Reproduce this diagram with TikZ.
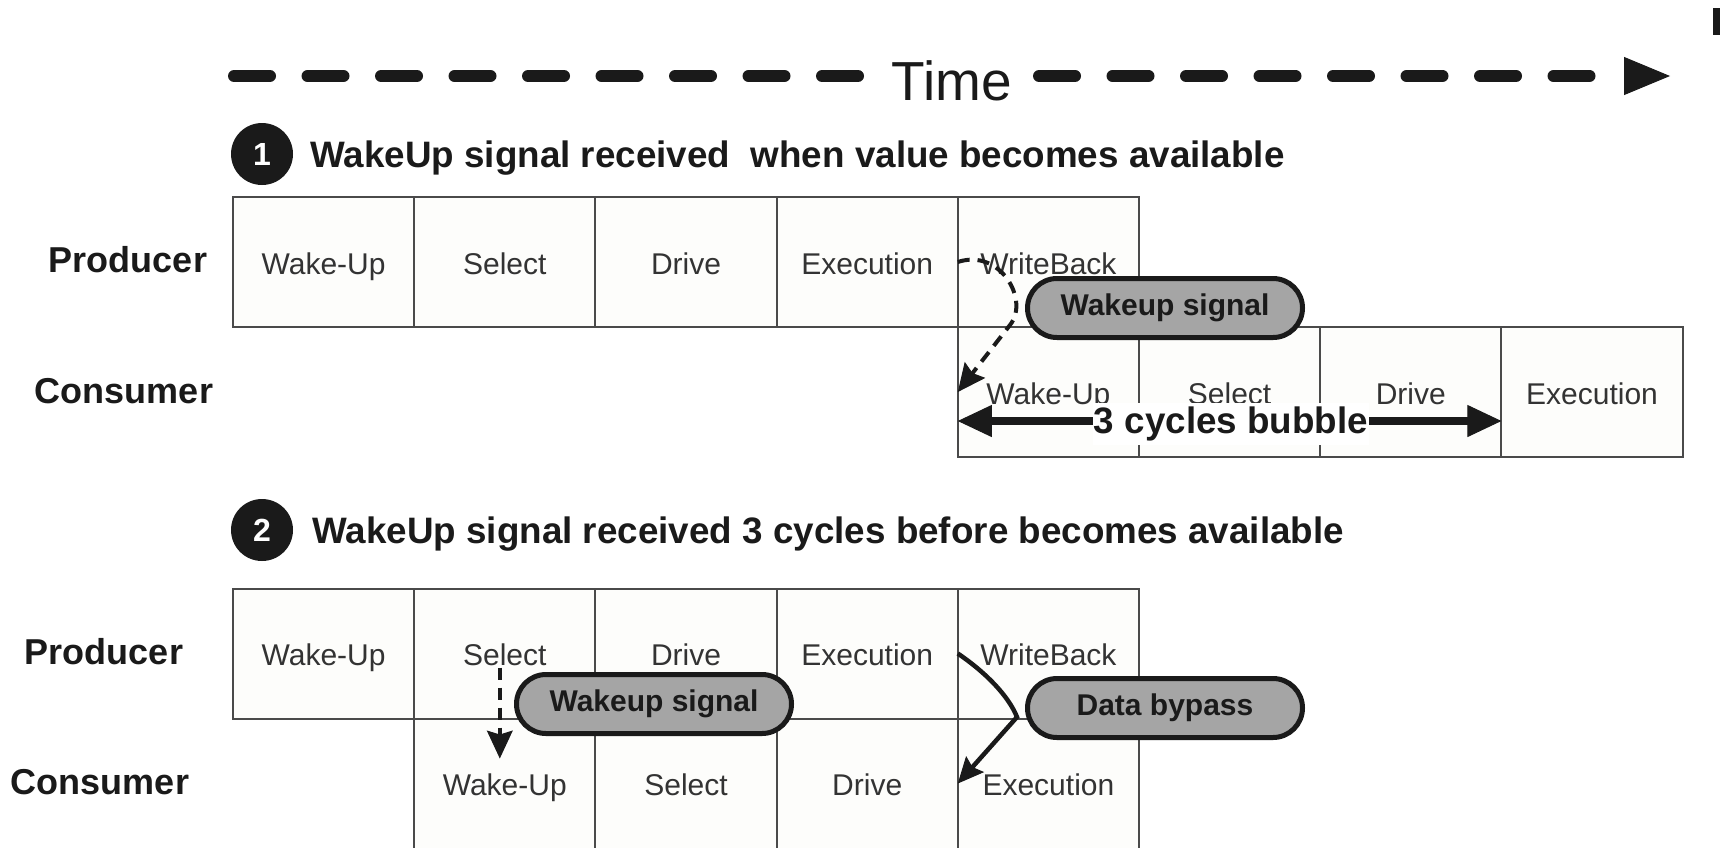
\documentclass[tikz,border=0pt]{standalone}
\usepackage{fontspec}
\setmainfont{Liberation Sans}
\usetikzlibrary{arrows.meta,shapes.misc,calc}
\definecolor{cellfill}{HTML}{FDFDFB}
\definecolor{cellline}{HTML}{4A4A4A}
\definecolor{celltext}{HTML}{333333}
\definecolor{pillfill}{HTML}{A5A5A5}
\definecolor{ink}{HTML}{1A1A1A}
\begin{document}
\begin{tikzpicture}[x=0.5pt,y=-0.5pt,
  cell/.style={draw=cellline,line width=1pt,fill=cellfill,minimum width=90.6pt,
    minimum height=65pt,inner sep=0pt,outer sep=0pt,text=celltext,
    text height=12pt,text depth=0pt,
    font=\fontsize{15pt}{18pt}\selectfont},
  rowlabel/.style={font=\bfseries\fontsize{18pt}{21pt}\selectfont,text=ink,inner sep=0pt},
  heading/.style={font=\bfseries\fontsize{18.4pt}{21pt}\selectfont,text=ink,anchor=west,inner sep=0pt},
  badge/.style={circle,fill=ink,minimum size=31pt,inner sep=0pt,text=white,
    font=\bfseries\fontsize{16pt}{18pt}\selectfont},
  pill/.style={rounded rectangle,draw=ink,line width=2.5pt,fill=pillfill,
    minimum width=137.5pt,minimum height=29.5pt,inner sep=0pt,
    font=\bfseries\fontsize{15pt}{18pt}\selectfont,text=ink},
  timeline/.style={line width=6pt,line cap=round,dash pattern=on 18pt off 18.75pt,draw=ink},
  signal/.style={line width=2pt,dash pattern=on 6pt off 4pt,draw=ink,
    -{Stealth[length=14pt,width=13pt,inset=2pt,line width=0.5pt]}},
  bypass/.style={line width=2.25pt,draw=ink,
    -{Stealth[length=13pt,width=12pt,inset=2pt,line width=0.5pt]}},
  span/.style={line width=4pt,draw=ink,
    {Triangle[length=17pt,width=16pt,line width=0.5pt]}-{Triangle[length=17pt,width=16pt,line width=0.5pt]}},
]
\useasboundingbox (0,0) rectangle (1723,847);

% time axis
\node[font=\fontsize{27.5pt}{30pt}\selectfont,text=ink,inner sep=0pt,anchor=base] (time) at (952,100) {Time};
\coordinate (t0) at (234,76);
\coordinate (t1) at (858,76);
\coordinate (t2) at (1039,76);
\coordinate (t3) at (1670,76);
\draw[timeline] (t0) -- (t1);
\draw[timeline,-{Triangle[length=23pt,width=19pt,line width=0.5pt]}] (t2) -- (t3);
\fill[ink] (1713,8) rectangle (1720,35);

% case 1
\node[badge] (n1) at (262,154) {1};
\node[heading] (h1) at (310,158) {WakeUp signal received\ \ when value becomes available};

\node[rowlabel] (prod1) at (128,260) {Producer};
\node[rowlabel] (cons1) at (124,391) {Consumer};

\node[cell] (p1a) at (323.6,262) {Wake-Up};
\node[cell] (p1b) at (504.8,262) {Select};
\node[cell] (p1c) at (686.0,262) {Drive};
\node[cell] (p1d) at (867.2,262) {Execution};
\node[cell] (p1e) at (1048.4,262) {WriteBack};

\node[cell] (c1a) at (1048.4,392) {Wake-Up};
\node[cell] (c1b) at (1229.6,392) {Select};
\node[cell] (c1c) at (1410.8,392) {Drive};
\node[cell] (c1d) at (1592.0,392) {Execution};

\path (c1a.south west) ++(0,-36) coordinate (b0);
\path (c1d.south west) ++(0,-36) coordinate (b1);
\draw[span] (b0) -- (b1);
\node[font=\bfseries\fontsize{18.4pt}{20pt}\selectfont,fill=white,inner xsep=0.5pt,
  inner ysep=2pt,text=ink] (bub) at (1231,424) {3 cycles bubble};

\draw[signal] (p1e.west) .. controls (1000,248) and (1030,300) .. (1010,325) -- (c1a.west);
\node[pill] (wk1) at (1165,308) {Wakeup signal};

% case 2
\node[badge] (n2) at (262,530) {2};
\node[heading] (h2) at (312,534) {WakeUp signal received 3 cycles before becomes available};

\node[rowlabel] (prod2) at (104,652) {Producer};
\node[rowlabel] (cons2) at (100,782) {Consumer};

\node[cell] (p2a) at (323.6,653.5) {Wake-Up};
\node[cell] (p2b) at (504.8,653.5) {Select};
\node[cell] (p2c) at (686.0,653.5) {Drive};
\node[cell] (p2d) at (867.2,653.5) {Execution};
\node[cell] (p2e) at (1048.4,653.5) {WriteBack};

\node[cell] (c2a) at (504.8,783.5) {Wake-Up};
\node[cell] (c2b) at (686.0,783.5) {Select};
\node[cell] (c2c) at (867.2,783.5) {Drive};
\node[cell] (c2d) at (1048.4,783.5) {Execution};

\node[pill] (wk2) at (654,704) {Wakeup signal};
\node[pill] (byp) at (1165,708) {Data bypass};

\draw[signal] ($(p2b.center)+(-5,14)$) -- ($(c2a.center)+(-5,-25)$);
\draw[bypass] (p2e.west) .. controls (985,672) and (1008,695) .. ($(byp.west)+(-8,9)$) -- (c2d.west);
\end{tikzpicture}
\end{document}
